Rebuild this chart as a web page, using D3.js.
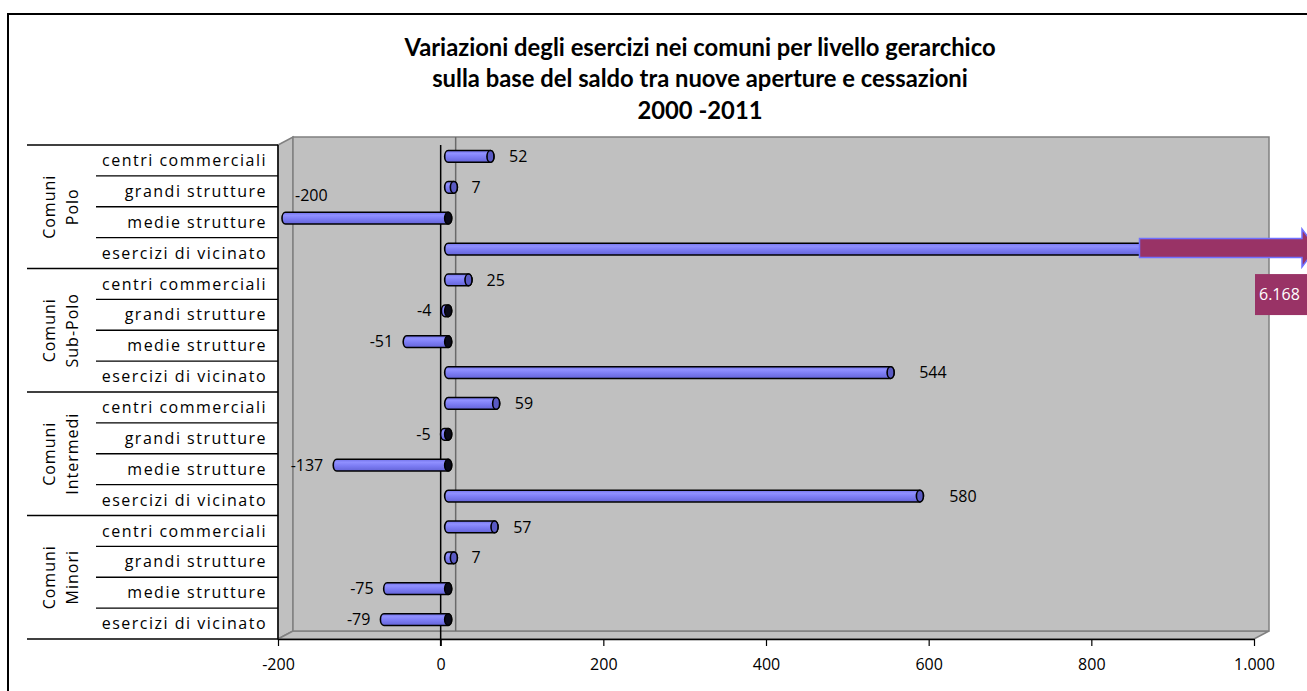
<!DOCTYPE html>
<html>
<head>
<meta charset="utf-8">
<script src="https://cdn.jsdelivr.net/npm/d3@7"></script>
<style>
  body { margin: 0; background: #fff; }
  svg { display: block; }
  text { font-family: "Open Sans", "Noto Sans", sans-serif; fill: #000; }
</style>
</head>
<body>
<svg id="chart" width="1307" height="691"></svg>
<script>
// ---- data ----
const groupNames = [["Comuni", "Polo"], ["Comuni", "Sub-Polo"], ["Comuni", "Intermedi"], ["Comuni", "Minori"]];
const types = ["centri commerciali", "grandi strutture", "medie strutture", "esercizi di vicinato"];
const valuesPolo = [52, 7, -200, 6168];
const valuesSubPolo = [25, -4, -51, 544];
const valuesIntermedi = [59, -5, -137, 580];
const valuesMinori = [57, 7, -75, -79];
const xTicks = [-200, 0, 200, 400, 600, 800, 1000];
const xDomain = [-200, 1000];
const titleLines = [
  "Variazioni degli esercizi nei comuni per livello gerarchico",
  "sulla base del saldo tra nuove aperture e cessazioni",
  "2000 -2011"
];

const groupValues = [valuesPolo, valuesSubPolo, valuesIntermedi, valuesMinori];
const rows = [];
groupValues.forEach((vals, g) => {
  types.forEach((t, i) => rows.push({ id: g + "-" + i, group: g, type: t, value: vals[i] }));
});

// Italian number format: "." for thousands, plain hyphen for negatives
const it = d3.formatLocale({ decimal: ",", thousands: ".", grouping: [3], currency: ["€", ""], minus: "-" });
const fmt = it.format(",d");

// ---- layout ----
const W = 1307, H = 691;
const svg = d3.select("#chart");
const plotL = 278, plotR = 1254, plotT = 145, plotB = 639;
const DX = 15, DY = -8;           // depth of the 3-D box

const x = d3.scaleLinear().domain(xDomain).range([plotL, plotR]);
const y = d3.scaleBand().domain(rows.map(r => r.id)).range([plotT, plotB]);
const bw = y.bandwidth();

// outer frame
svg.append("rect").attr("x", 8).attr("y", 14).attr("width", W + 20).attr("height", H + 20)
  .attr("fill", "#fff").attr("stroke", "#000").attr("stroke-width", 2);

// title
svg.append("g").selectAll("text").data(titleLines).join("text")
  .attr("x", 700).attr("y", (d, i) => 55.5 + i * 31.5)
  .attr("text-anchor", "middle")
  .style("font-family", "Lato, 'Open Sans', sans-serif")
  .style("font-weight", "bold").style("font-size", "23.8px")
  .text(d => d);

// ---- walls ----
const walls = svg.append("g");
const wallFill = "#c0c0c0", wallEdge = "#808080";
walls.append("polygon")
  .attr("points", [[plotL, plotT], [plotL + DX, plotT + DY], [plotL + DX, plotB + DY], [plotL, plotB]].join(" "))
  .attr("fill", wallFill).attr("stroke", wallEdge).attr("stroke-width", 1.5);
walls.append("polygon")
  .attr("points", [[plotL, plotB], [plotL + DX, plotB + DY], [plotR + DX, plotB + DY], [plotR, plotB]].join(" "))
  .attr("fill", wallFill).attr("stroke", wallEdge).attr("stroke-width", 1.5);
walls.append("rect")
  .attr("x", plotL + DX).attr("y", plotT + DY).attr("width", plotR - plotL).attr("height", plotB - plotT)
  .attr("fill", wallFill).attr("stroke", wallEdge).attr("stroke-width", 1.5);

// gridline on the back wall at zero
walls.append("line")
  .attr("x1", x(0) + DX).attr("x2", x(0) + DX)
  .attr("y1", plotT + DY).attr("y2", plotB + DY)
  .attr("stroke", "#6a6a6a").attr("stroke-width", 1.5);

// front edge of the left wall
svg.append("line").attr("x1", plotL).attr("x2", plotL).attr("y1", plotT).attr("y2", plotB)
  .attr("stroke", "#000").attr("stroke-width", 1.5);

// value axis
const axis = svg.append("g").attr("transform", `translate(0,${plotB})`)
  .call(d3.axisBottom(x).tickValues(xTicks).tickSize(7).tickSizeOuter(0).tickPadding(13).tickFormat(fmt));
axis.select(".domain").attr("stroke", "#000").attr("stroke-width", 1.5);
axis.selectAll(".tick line").attr("stroke", "#000").attr("stroke-width", 1.2);
axis.selectAll(".tick text").style("font-family", "'Open Sans', sans-serif").style("font-size", "16px").attr("fill", "#000");

// front zero line
svg.append("line").attr("x1", x(0)).attr("x2", x(0)).attr("y1", plotT).attr("y2", plotB + 7)
  .attr("stroke", "#000").attr("stroke-width", 1.5);

// ---- category table on the left ----
const cat = svg.append("g");
rows.forEach((r, i) => {
  const yt = y(r.id);
  const isGroupStart = i % types.length === 0;
  cat.append("line").attr("x1", isGroupStart ? 27 : 96).attr("x2", plotL)
    .attr("y1", yt).attr("y2", yt).attr("stroke", "#000").attr("stroke-width", 1.3);
});
cat.append("line").attr("x1", 27).attr("x2", plotL).attr("y1", plotB).attr("y2", plotB)
  .attr("stroke", "#000").attr("stroke-width", 1.3);

cat.selectAll("text.type").data(rows).join("text").attr("class", "type")
  .attr("x", plotL - 11).attr("y", d => y(d.id) + bw / 2)
  .attr("dy", "0.35em").attr("text-anchor", "end")
  .style("font-size", "16px").style("letter-spacing", "1.5px")
  .text(d => d.type);

groupNames.forEach((lines, g) => {
  const y0 = y(g + "-0"), y1 = y(g + "-" + (types.length - 1)) + bw;
  const t = cat.append("text")
    .attr("transform", `translate(66,${(y0 + y1) / 2}) rotate(-90)`)
    .attr("text-anchor", "middle")
    .style("font-size", "16px").style("letter-spacing", "1px");
  lines.forEach((l, k) => t.append("tspan").attr("x", 0).attr("y", k === 0 ? -11 : 12).text(l));
});

// ---- cylinders ----
const defs = svg.append("defs");
const grad = defs.append("linearGradient").attr("id", "barGrad")
  .attr("x1", 0).attr("x2", 0).attr("y1", 0).attr("y2", 1);
[[0, "#7272e8"], [0.25, "#9090ff"], [0.55, "#7d7df4"], [1, "#6464d8"]]
  .forEach(([o, c]) => grad.append("stop").attr("offset", o).attr("stop-color", c));

const bars = svg.append("g");
const hh = bw * 0.19, rx = 3.5;
const xMax = xDomain[1];
rows.forEach(r => {
  const cy = y(r.id) + bw / 2 + DY / 2;
  const clipped = r.value > xMax;
  const x0 = x(0) + DX / 2, x1 = x(Math.min(r.value, xMax)) + DX / 2;
  const xa = Math.min(x0, x1), xb = Math.max(x0, x1);
  const body = `M${xa},${cy - hh}L${xb},${cy - hh}` +
    (clipped ? `L${xb},${cy + hh}` : `A${rx},${hh} 0 0 1 ${xb},${cy + hh}`) +
    `L${xa},${cy + hh}A${rx},${hh} 0 0 1 ${xa},${cy - hh}Z`;
  bars.append("path").attr("d", body).attr("fill", "url(#barGrad)")
    .attr("stroke", "#000").attr("stroke-width", 1.6);
  if (!clipped) {
    bars.append("ellipse").attr("cx", xb).attr("cy", cy).attr("rx", rx).attr("ry", hh)
      .attr("fill", r.value >= 0 ? "#5a5ac4" : "#0a0a1a")
      .attr("stroke", "#000").attr("stroke-width", 1.6);
  }
  r.cy = cy; r.xa = xa; r.xb = xb; r.clipped = clipped;
});

// ---- value labels ----
const labels = svg.append("g");
rows.filter(r => !r.clipped).forEach(r => {
  const t = labels.append("text").style("font-size", "16px").attr("dy", "0.35em").text(fmt(r.value));
  if (r.value >= 0) {
    // the gap widens slightly with bar length (perspective of the 3-D view)
    const gap = 14 + 0.025 * (r.xb - r.xa);
    t.attr("x", r.xb + rx + gap).attr("y", r.cy).attr("text-anchor", "start");
  } else {
    const w = t.node().getComputedTextLength();
    const xe = r.xa - rx - 10;
    if (xe - w < plotL) {
      // no room on the left: move the label inside the plot, above the bar
      t.attr("x", plotL + DX + 2).attr("y", r.cy - bw * 0.75).attr("text-anchor", "start");
    } else {
      t.attr("x", xe).attr("y", r.cy).attr("text-anchor", "end");
    }
  }
});

// ---- off-scale arrow for the value beyond the axis ----
const over = rows.find(r => r.clipped);
if (over) {
  const ax0 = x(850) + DX / 2, axTip = W + 9, headBase = W - 5;
  const sh = 9.5, hhd = 19;
  const cy = over.cy - 1;
  const arrow = `M${ax0},${cy - sh}L${headBase},${cy - sh}L${headBase},${cy - hhd}L${axTip},${cy}` +
    `L${headBase},${cy + hhd}L${headBase},${cy + sh}L${ax0},${cy + sh}Z`;
  svg.append("path").attr("d", arrow).attr("fill", "#993366")
    .attr("stroke", "#7070ff").attr("stroke-width", 1.5);
  const bx = W - 52, by = cy + 26;
  svg.append("rect").attr("x", bx).attr("y", by).attr("width", 70).attr("height", 41).attr("fill", "#993366");
  svg.append("text").attr("x", bx + 4).attr("y", by + 20.5).attr("dy", "0.35em")
    .style("font-size", "16px").style("fill", "#fff").text(fmt(over.value));
}
</script>
</body>
</html>
